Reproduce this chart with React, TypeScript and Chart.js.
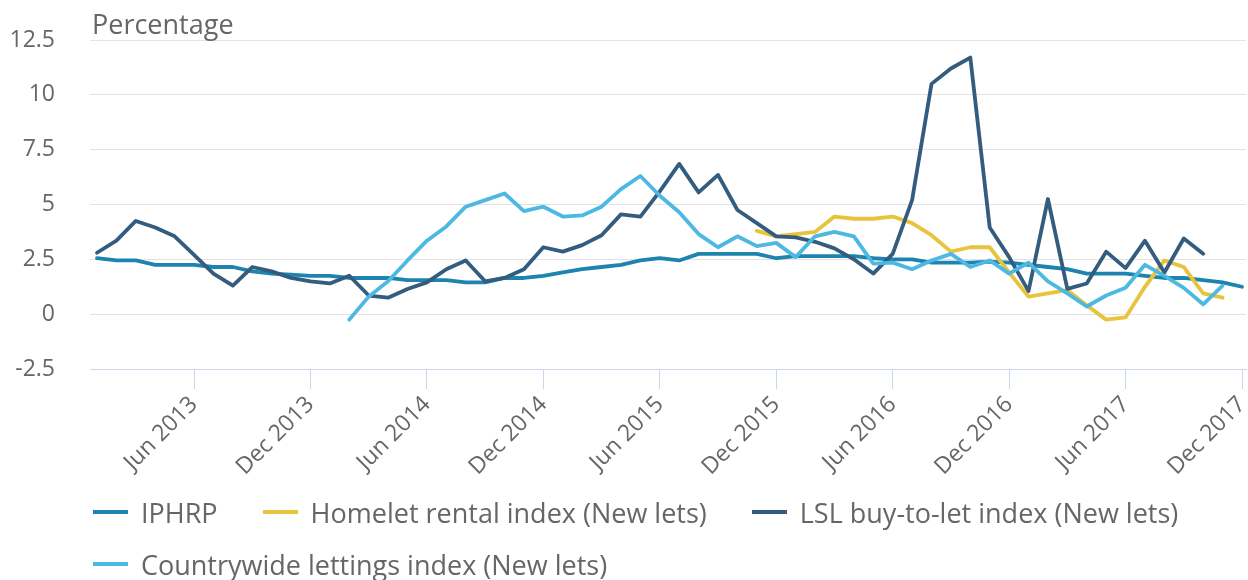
import React, { useEffect, useRef } from "react";
import { Chart, registerables } from "chart.js";

Chart.register(...registerables);

// Month index 0 = Jan 2013 ... 59 = Dec 2017
const xTickIndices = [5, 11, 17, 23, 29, 35, 41, 47, 53, 59];
const xTickLabels = [
  "Jun 2013", "Dec 2013", "Jun 2014", "Dec 2014", "Jun 2015",
  "Dec 2015", "Jun 2016", "Dec 2016", "Jun 2017", "Dec 2017",
];
const yTicks = [-2.5, 0, 2.5, 5, 7.5, 10, 12.5];

const iphrp = [
  2.55, 2.45, 2.45, 2.25, 2.25, 2.25, 2.15, 2.15, 1.95, 1.85, 1.8, 1.75,
  1.75, 1.65, 1.65, 1.65, 1.55, 1.55, 1.55, 1.45, 1.45, 1.65, 1.65, 1.75,
  1.9, 2.05, 2.15, 2.25, 2.45, 2.55, 2.45, 2.75, 2.75, 2.75, 2.75, 2.55,
  2.65, 2.65, 2.65, 2.65, 2.55, 2.5, 2.5, 2.35, 2.35, 2.35, 2.4, 2.35,
  2.25, 2.15, 2.05, 1.85, 1.85, 1.85, 1.75, 1.65, 1.65, 1.55, 1.45, 1.25,
];

const homelet = [
  null, null, null, null, null, null, null, null, null, null, null, null,
  null, null, null, null, null, null, null, null, null, null, null, null,
  null, null, null, null, null, null, null, null, null, null, 3.8, 3.55,
  3.65, 3.75, 4.45, 4.35, 4.35, 4.45, 4.15, 3.6, 2.85, 3.05, 3.05, 1.9,
  0.8, 0.95, 1.1, 0.4, -0.25, -0.15, 1.25, 2.45, 2.15, 0.95, 0.75, null,
];

const lsl = [
  2.8, 3.35, 4.25, 3.95, 3.55, 2.7, 1.85, 1.3, 2.15, 1.95, 1.65, 1.5,
  1.4, 1.75, 0.85, 0.75, 1.15, 1.45, 2.05, 2.45, 1.5, 1.65, 2.05, 3.05,
  2.85, 3.15, 3.6, 4.55, 4.45, 5.6, 6.85, 5.55, 6.35, 4.75, 4.15, 3.55,
  3.5, 3.3, 3.0, 2.5, 1.85, 2.75, 5.2, 10.5, 11.2, 11.7, 3.95, 2.6,
  1.05, 5.25, 1.15, 1.4, 2.85, 2.1, 3.35, 1.9, 3.45, 2.75, null, null,
];

const countrywide = [
  null, null, null, null, null, null, null, null, null, null, null, null,
  null, -0.25, 0.8, 1.5, 2.45, 3.35, 4.0, 4.9, 5.2, 5.5, 4.7, 4.9,
  4.45, 4.5, 4.9, 5.7, 6.3, 5.4, 4.65, 3.65, 3.05, 3.55, 3.1, 3.25,
  2.6, 3.55, 3.75, 3.55, 2.3, 2.35, 2.05, 2.45, 2.75, 2.15, 2.45, 1.85,
  2.35, 1.5, 0.95, 0.35, 0.85, 1.2, 2.25, 1.75, 1.2, 0.45, 1.3, null,
];

const seriesNames = [
  "IPHRP",
  "Homelet rental index (New lets)",
  "LSL buy-to-let index (New lets)",
  "Countrywide lettings index (New lets)",
];
const seriesColors = ["#1c84ae", "#e8c33b", "#335c7e", "#4db8e2"];
const seriesValues = [iphrp, homelet, lsl, countrywide];

const FONT = "'Open Sans', 'Noto Sans', sans-serif";
const TEXT = "#666666";

export default function App() {
  const canvasRef = useRef<HTMLCanvasElement | null>(null);

  useEffect(() => {
    if (!canvasRef.current) return;
    const chart = new Chart(canvasRef.current, {
      type: "line",
      data: {
        datasets: seriesValues.map((vals, k) => ({
          label: seriesNames[k],
          data: vals.map((v, i) => ({ x: i, y: v })),
          borderColor: seriesColors[k],
          backgroundColor: seriesColors[k],
          borderWidth: 3.8,
          pointRadius: 0,
          tension: 0,
          borderJoinStyle: "round",
          borderCapStyle: "round",
          spanGaps: false,
          order: 4 - k,
        })),
      },
      options: {
        animation: false,
        responsive: true,
        maintainAspectRatio: false,
        layout: { padding: { top: 40, right: 2, left: 0, bottom: 0 }, autoPadding: false },
        plugins: {
          legend: { display: false },
          tooltip: { enabled: false },
          title: { display: false },
        },
        scales: {
          x: {
            type: "linear",
            min: -0.3607,
            max: 59.206,
            afterBuildTicks: (scale: any) => {
              scale.ticks = xTickIndices.map((v) => ({ value: v }));
            },
            afterFit: (scale: any) => {
              scale.height = 121;
              scale.paddingLeft = 0;
              scale.paddingRight = 0;
              scale.paddingTop = 0;
              scale.paddingBottom = 0;
            },
            ticks: {
              autoSkip: false,
              minRotation: 45,
              maxRotation: 45,
              padding: 2,
              color: TEXT,
              font: { family: FONT, size: 23 },
              callback: (value: any) => {
                const idx = xTickIndices.indexOf(Number(value));
                return idx >= 0 ? xTickLabels[idx] : "";
              },
            },
            grid: {
              drawOnChartArea: false,
              drawTicks: true,
              tickLength: 20,
              color: "#ccd6eb",
              lineWidth: 1,
            },
            border: { display: true, color: "#ccd6eb", width: 1 },
          },
          y: {
            min: -2.5,
            max: 12.5,
            afterBuildTicks: (scale: any) => {
              scale.ticks = yTicks.map((v) => ({ value: v }));
            },
            afterFit: (scale: any) => {
              scale.width = 90;
              scale.paddingLeft = 0;
              scale.paddingRight = 0;
              scale.paddingTop = 0;
              scale.paddingBottom = 0;
            },
            ticks: {
              padding: 35,
              color: TEXT,
              font: { family: FONT, size: 23 },
            },
            grid: {
              color: "#e3e3e3",
              lineWidth: 1,
              drawTicks: false,
            },
            border: { display: false },
          },
        },
      },
    } as any);
    return () => chart.destroy();
  }, []);

  return (
    <div
      style={{
        position: "fixed",
        left: 0,
        top: 0,
        width: 1248,
        height: 580,
        background: "#ffffff",
        overflow: "hidden",
        fontFamily: FONT,
      }}
    >
      <div style={{ position: "absolute", left: 0, top: 0, width: 1248, height: 490 }}>
        <canvas ref={canvasRef} />
      </div>
      <div
        style={{
          position: "absolute",
          left: 92,
          top: 10,
          fontSize: 27,
          lineHeight: "27px",
          color: TEXT,
        }}
      >
        Percentage
      </div>
      <div
        style={{
          position: "absolute",
          left: 93,
          top: 486,
          width: 1150,
          display: "flex",
          flexWrap: "wrap",
          alignItems: "center",
        }}
      >
        {seriesNames.map((name, k) => (
          <div
            key={name}
            style={{
              display: "flex",
              alignItems: "center",
              height: 52,
              marginRight: 45,
              fontSize: 27,
              color: TEXT,
              whiteSpace: "nowrap",
            }}
          >
            <span
              style={{
                display: "inline-block",
                width: 35,
                height: 3.5,
                background: seriesColors[k],
                marginRight: 13,
              }}
            />
            <span>{name}</span>
          </div>
        ))}
      </div>
    </div>
  );
}
